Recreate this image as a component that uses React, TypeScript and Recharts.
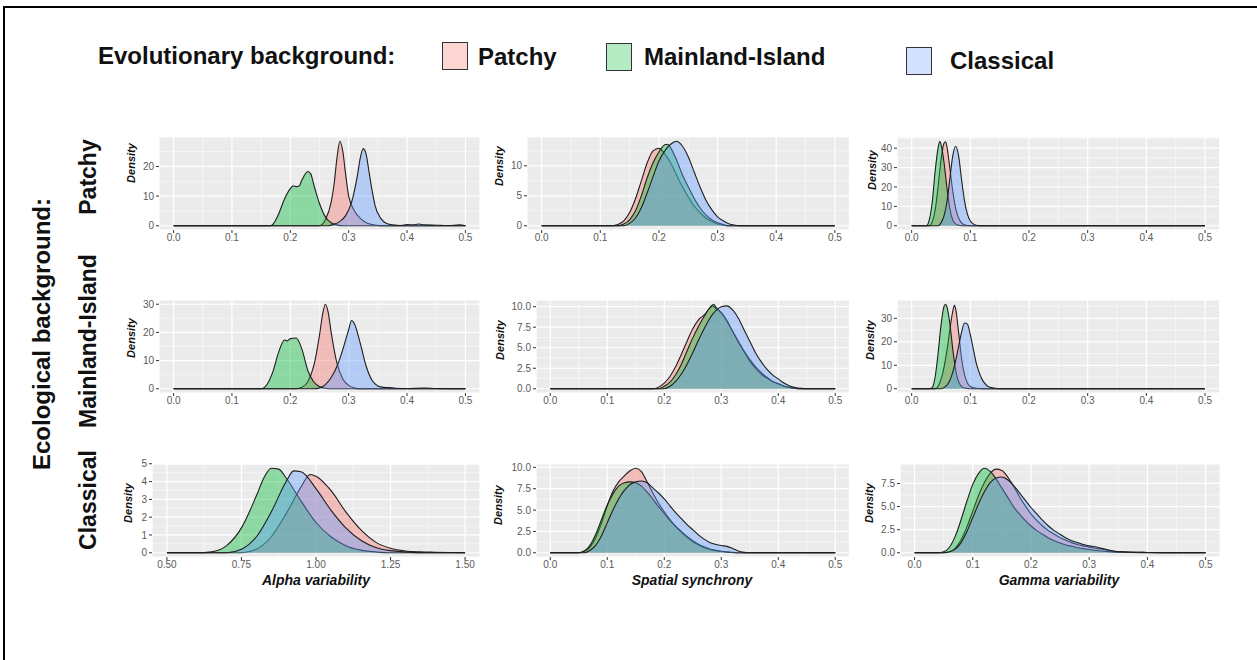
import React from 'react';
import { ComposedChart, Area, XAxis, YAxis, CartesianGrid } from 'recharts';

const FONT = '"Liberation Sans", Arial, Helvetica, sans-serif';

type Pts = number[][];

// ---------- categories / labels ----------
const evoGroups = ['Patchy', 'Mainland-Island', 'Classical'];
const evoColors = ['#F8766D', '#00BA38', '#619CFF'];
const legendFills = ['#FDD5D2', '#B5EBC3', '#D3E1FF'];
const ecoRows = ['Patchy', 'Mainland-Island', 'Classical'];
const metricTitles = ['Alpha variability', 'Spatial synchrony', 'Gamma variability'];

const xTicksUnit = [0, 0.1, 0.2, 0.3, 0.4, 0.5];
const xTicksAlphaClassical = [0.5, 0.75, 1, 1.25, 1.5];

// ---------- Row 1: ecological Patchy ----------
const r1AlphaP: Pts = [[0,0],[0.25,0],[0.26,2],[0.27,8],[0.275,14],[0.28,23],[0.285,28.5],[0.29,25],[0.295,17],[0.30,10],[0.31,5],[0.32,2.5],[0.33,1],[0.34,0.4],[0.35,0.1],[0.36,0],[0.5,0]];
const r1AlphaM: Pts = [[0,0],[0.165,0],[0.17,0.5],[0.18,4],[0.19,9],[0.20,12.5],[0.205,13.5],[0.21,13.2],[0.215,13.4],[0.22,15.5],[0.23,18.3],[0.235,17.5],[0.24,14],[0.25,7.5],[0.26,3],[0.27,1],[0.28,0.3],[0.29,0],[0.5,0]];
const r1AlphaC: Pts = [[0,0],[0.265,0],[0.275,0.5],[0.285,1.5],[0.295,3.5],[0.305,8],[0.315,17],[0.32,23],[0.325,26],[0.33,24],[0.335,18],[0.34,12],[0.345,7],[0.355,2.5],[0.365,0.8],[0.375,0.3],[0.39,0.1],[0.40,0.4],[0.41,0.3],[0.42,0.6],[0.43,0.3],[0.45,0.2],[0.47,0.1],[0.49,0.3],[0.5,0]];

const r1SyncP: Pts = [[0,0],[0.12,0],[0.13,0.2],[0.14,0.8],[0.15,2.2],[0.16,4.5],[0.17,7.5],[0.18,10.5],[0.19,12.5],[0.20,12.9],[0.21,12],[0.22,10.5],[0.23,8.5],[0.24,6.5],[0.25,4.8],[0.26,3.3],[0.27,2.2],[0.28,1.3],[0.29,0.7],[0.30,0.3],[0.31,0.1],[0.32,0],[0.5,0]];
const r1SyncM: Pts = [[0,0],[0.13,0],[0.14,0.3],[0.15,1],[0.16,2.5],[0.17,5],[0.18,8],[0.19,10.5],[0.20,12.3],[0.21,13.5],[0.215,13.6],[0.22,13],[0.23,11],[0.24,8.5],[0.25,6.5],[0.26,4.6],[0.27,3],[0.28,1.8],[0.29,1],[0.30,0.5],[0.31,0.2],[0.32,0],[0.5,0]];
const r1SyncC: Pts = [[0,0],[0.14,0],[0.15,0.4],[0.16,1.3],[0.17,3],[0.18,5.5],[0.19,8.2],[0.20,10.8],[0.21,12.5],[0.22,13.6],[0.23,14.1],[0.24,13.3],[0.25,11.5],[0.26,9],[0.27,6.5],[0.28,4.3],[0.29,2.7],[0.30,1.5],[0.31,0.8],[0.32,0.3],[0.33,0.1],[0.34,0],[0.5,0]];

const r1GammaP: Pts = [[0,0],[0.03,0],[0.035,2],[0.04,8],[0.045,20],[0.05,34],[0.055,42.5],[0.058,43.3],[0.06,41],[0.065,30],[0.07,18],[0.075,9],[0.08,4],[0.085,1.5],[0.09,0.5],[0.10,0],[0.5,0]];
const r1GammaM: Pts = [[0,0],[0.025,0],[0.03,3],[0.035,12],[0.04,28],[0.045,40],[0.048,43.6],[0.05,42],[0.055,33],[0.06,20],[0.065,9],[0.07,3],[0.075,1],[0.08,0.3],[0.09,0],[0.5,0]];
const r1GammaC: Pts = [[0,0],[0.045,0],[0.05,1.5],[0.055,5],[0.06,12],[0.065,24],[0.07,36],[0.075,41],[0.08,36],[0.085,24],[0.09,13],[0.095,6],[0.10,2.5],[0.105,1],[0.11,0.3],[0.12,0],[0.5,0]];

// ---------- Row 2: ecological Mainland-Island ----------
const r2AlphaP: Pts = [[0,0],[0.21,0],[0.22,0.5],[0.23,2.5],[0.24,8],[0.25,19],[0.255,26],[0.26,30],[0.265,27],[0.27,20],[0.28,9],[0.29,3.5],[0.30,1.2],[0.31,0.3],[0.32,0],[0.5,0]];
const r2AlphaM: Pts = [[0,0],[0.15,0],[0.16,1.5],[0.17,6],[0.18,13],[0.19,17.3],[0.195,17],[0.20,17.8],[0.21,18],[0.22,14],[0.23,6.5],[0.24,2.5],[0.25,0.8],[0.26,0.2],[0.27,0],[0.5,0]];
const r2AlphaC: Pts = [[0,0],[0.24,0],[0.25,0.3],[0.26,1.5],[0.27,4],[0.28,8],[0.29,14],[0.30,21],[0.305,24.2],[0.31,23],[0.32,16],[0.33,8],[0.34,3],[0.35,1],[0.36,0.5],[0.37,0.4],[0.38,0.2],[0.40,0.1],[0.43,0.3],[0.45,0.1],[0.5,0]];

const r2SyncP: Pts = [[0,0],[0.18,0],[0.19,0.2],[0.20,0.7],[0.21,1.5],[0.22,2.7],[0.23,4.2],[0.24,5.8],[0.25,7.3],[0.26,8.4],[0.27,9],[0.28,9.8],[0.285,10.1],[0.29,9.8],[0.30,9.2],[0.31,8.2],[0.32,7],[0.33,5.8],[0.34,4.6],[0.35,3.6],[0.36,2.7],[0.37,2],[0.38,1.4],[0.39,0.9],[0.40,0.6],[0.41,0.3],[0.42,0.15],[0.43,0.05],[0.44,0],[0.5,0]];
const r2SyncM: Pts = [[0,0],[0.19,0],[0.20,0.3],[0.21,0.8],[0.22,1.7],[0.23,3],[0.24,4.6],[0.25,6.2],[0.26,7.6],[0.27,8.8],[0.28,9.9],[0.287,10.3],[0.29,10],[0.30,9.3],[0.31,8.3],[0.32,7],[0.33,5.7],[0.34,4.5],[0.35,3.4],[0.36,2.5],[0.37,1.8],[0.38,1.3],[0.39,0.9],[0.40,0.6],[0.41,0.35],[0.42,0.15],[0.43,0.05],[0.44,0],[0.5,0]];
const r2SyncC: Pts = [[0,0],[0.20,0],[0.21,0.3],[0.22,0.9],[0.23,1.8],[0.24,3],[0.25,4.4],[0.26,5.9],[0.27,7.3],[0.28,8.6],[0.29,9.5],[0.30,10],[0.31,10.1],[0.32,9.6],[0.33,8.6],[0.34,7.2],[0.35,5.8],[0.36,4.4],[0.37,3.3],[0.38,2.4],[0.39,1.7],[0.40,1.2],[0.41,0.7],[0.42,0.35],[0.43,0.15],[0.44,0.05],[0.45,0],[0.5,0]];

const r2GammaP: Pts = [[0,0],[0.04,0],[0.045,1],[0.05,4],[0.055,9],[0.06,16],[0.065,25],[0.07,33],[0.073,35.5],[0.075,34],[0.08,24],[0.085,13],[0.09,6],[0.095,2.5],[0.10,1],[0.11,0.2],[0.12,0],[0.5,0]];
const r2GammaM: Pts = [[0,0],[0.03,0],[0.035,0.5],[0.04,5],[0.045,15],[0.05,27],[0.055,35],[0.058,36],[0.06,35],[0.065,28],[0.07,17],[0.075,8],[0.08,3],[0.085,1],[0.09,0.3],[0.10,0],[0.5,0]];
const r2GammaC: Pts = [[0,0],[0.05,0],[0.055,0.5],[0.06,1.5],[0.065,3.5],[0.07,7],[0.075,12],[0.08,18],[0.085,24],[0.09,28],[0.095,27.5],[0.10,23],[0.105,17],[0.11,11],[0.115,7],[0.12,4],[0.125,2.2],[0.13,1],[0.14,0.3],[0.15,0],[0.5,0]];

// ---------- Row 3: ecological Classical ----------
const r3AlphaP: Pts = [[0.5,0],[0.75,0],[0.80,0.2],[0.85,0.9],[0.90,2.2],[0.95,3.7],[0.98,4.4],[1.00,4.3],[1.05,3.5],[1.10,2.3],[1.15,1.3],[1.20,0.6],[1.25,0.25],[1.30,0.1],[1.35,0.05],[1.40,0.03],[1.5,0]];
const r3AlphaM: Pts = [[0.5,0],[0.60,0],[0.65,0.05],[0.70,0.4],[0.75,1.4],[0.80,3.2],[0.825,4.2],[0.85,4.75],[0.875,4.7],[0.90,4.2],[0.95,2.9],[1.00,1.7],[1.05,0.9],[1.10,0.4],[1.15,0.15],[1.20,0.05],[1.25,0],[1.5,0]];
const r3AlphaC: Pts = [[0.5,0],[0.70,0],[0.75,0.2],[0.80,0.9],[0.85,2.3],[0.90,4.0],[0.925,4.6],[0.95,4.55],[1.00,3.6],[1.05,2.4],[1.10,1.4],[1.15,0.7],[1.20,0.3],[1.25,0.12],[1.30,0.05],[1.35,0],[1.5,0]];

const r3SyncP: Pts = [[0,0],[0.05,0],[0.06,0.2],[0.07,0.7],[0.08,1.8],[0.09,3.5],[0.10,5.5],[0.11,7.2],[0.12,8.3],[0.13,9],[0.14,9.6],[0.15,9.9],[0.16,9.5],[0.17,8.3],[0.18,7],[0.19,5.8],[0.20,4.8],[0.21,3.9],[0.22,3.1],[0.23,2.4],[0.24,1.8],[0.25,1.3],[0.26,0.9],[0.27,0.6],[0.28,0.4],[0.29,0.25],[0.30,0.15],[0.31,0.08],[0.32,0.03],[0.33,0],[0.5,0]];
const r3SyncM: Pts = [[0,0],[0.05,0],[0.06,0.2],[0.07,0.9],[0.08,2.2],[0.09,3.9],[0.10,5.6],[0.11,6.9],[0.12,7.8],[0.13,8.2],[0.14,8.3],[0.15,8.2],[0.16,7.8],[0.17,7.1],[0.18,6.3],[0.19,5.4],[0.20,4.6],[0.21,3.8],[0.22,3.1],[0.23,2.5],[0.24,1.9],[0.25,1.4],[0.26,1],[0.27,0.7],[0.28,0.45],[0.29,0.3],[0.30,0.18],[0.31,0.1],[0.32,0.05],[0.33,0],[0.5,0]];
const r3SyncC: Pts = [[0,0],[0.06,0],[0.07,0.3],[0.08,0.9],[0.09,2],[0.10,3.5],[0.11,5],[0.12,6.3],[0.13,7.3],[0.14,8],[0.15,8.3],[0.16,8.4],[0.17,8.2],[0.18,7.6],[0.19,7],[0.20,6.3],[0.21,5.5],[0.22,4.7],[0.23,4],[0.24,3.3],[0.25,2.7],[0.26,2.1],[0.27,1.6],[0.28,1.2],[0.29,1],[0.30,0.85],[0.31,0.75],[0.32,0.5],[0.33,0.2],[0.34,0.05],[0.35,0],[0.5,0]];

const r3GammaP: Pts = [[0,0],[0.05,0],[0.06,0.1],[0.07,0.5],[0.08,1.4],[0.09,2.8],[0.10,4.5],[0.11,6.2],[0.12,7.6],[0.13,8.6],[0.14,9.05],[0.15,8.9],[0.16,8.2],[0.17,7.2],[0.18,6.1],[0.19,5.1],[0.20,4.2],[0.21,3.5],[0.22,2.9],[0.23,2.4],[0.24,2],[0.25,1.65],[0.26,1.35],[0.27,1.1],[0.28,0.9],[0.29,0.75],[0.30,0.6],[0.32,0.4],[0.34,0.2],[0.36,0.1],[0.40,0.03],[0.45,0],[0.5,0]];
const r3GammaM: Pts = [[0,0],[0.04,0],[0.05,0.1],[0.06,0.6],[0.07,1.8],[0.08,3.6],[0.09,5.6],[0.10,7.4],[0.11,8.6],[0.12,9.15],[0.13,8.8],[0.14,8],[0.15,7],[0.16,6],[0.17,5],[0.18,4.2],[0.19,3.5],[0.20,2.9],[0.21,2.4],[0.22,2],[0.23,1.6],[0.24,1.3],[0.25,1.05],[0.26,0.85],[0.27,0.7],[0.28,0.55],[0.29,0.45],[0.30,0.35],[0.32,0.2],[0.34,0.1],[0.36,0.05],[0.40,0],[0.5,0]];
const r3GammaC: Pts = [[0,0],[0.05,0],[0.06,0.1],[0.07,0.4],[0.08,1.1],[0.09,2.3],[0.10,3.8],[0.11,5.3],[0.12,6.6],[0.13,7.6],[0.14,8.1],[0.15,8.2],[0.16,7.9],[0.17,7.3],[0.18,6.5],[0.19,5.7],[0.20,4.9],[0.21,4.2],[0.22,3.5],[0.23,2.9],[0.24,2.4],[0.25,2],[0.26,1.6],[0.27,1.3],[0.28,1.1],[0.29,0.9],[0.30,0.75],[0.31,0.65],[0.32,0.5],[0.33,0.35],[0.34,0.2],[0.36,0.08],[0.40,0.03],[0.45,0],[0.5,0]];

// ---------- y tick labels per panel ----------
const yTicksR1 = [[0, 10, 20], [0, 5, 10], [0, 10, 20, 30, 40]];
const yTicksR2 = [[0, 10, 20, 30], [0, 2.5, 5, 7.5, 10], [0, 10, 20, 30]];
const yTicksR3 = [[0, 1, 2, 3, 4, 5], [0, 2.5, 5, 7.5, 10], [0, 2.5, 5, 7.5]];

const panelSeries: Pts[][][] = [
  [[r1AlphaP, r1AlphaM, r1AlphaC], [r1SyncP, r1SyncM, r1SyncC], [r1GammaP, r1GammaM, r1GammaC]],
  [[r2AlphaP, r2AlphaM, r2AlphaC], [r2SyncP, r2SyncM, r2SyncC], [r2GammaP, r2GammaM, r2GammaC]],
  [[r3AlphaP, r3AlphaM, r3AlphaC], [r3SyncP, r3SyncM, r3SyncC], [r3GammaP, r3GammaM, r3GammaC]],
];
const panelYTicks = [yTicksR1, yTicksR2, yTicksR3];

// ---------- layout (pixels) ----------
const rowTops = [137, 300, 464];
const panelH = 93;
const colLefts = [[159, 527, 897], [159, 536, 897], [152, 536, 899.5]];
const colRights = [480, 849.5, 1219.7];
const Y_W = 40;
const X_H = 24;
const TOP_PAD = 8;
const densityPos = [
  [[131, 163], [499, 166], [872, 170]],
  [[131, 338], [500, 340], [870, 340]],
  [[128, 503], [498, 505], [869, 503]],
];

function buildRows(series: Pts[]) {
  const xs = Array.from(new Set(series.flatMap((s) => s.map((p) => p[0])))).sort((a, b) => a - b);
  return xs.map((x) => {
    const row: any = { x };
    series.forEach((s, i) => {
      const f = s.find((p) => p[0] === x);
      row['s' + i] = f ? f[1] : null;
    });
    return row;
  });
}

function scaleFn(axis: any) {
  const s = axis && axis.scale;
  if (typeof s === 'function') return (v: number) => s(v);
  if (s && typeof s.map === 'function') return (v: number) => s.map(v);
  return null;
}

function minorOf(ticks: number[], lo: number, hi: number) {
  const step = ticks[1] - ticks[0];
  const ext = [ticks[0] - step, ...ticks, ticks[ticks.length - 1] + step];
  const out: number[] = [];
  for (let i = 0; i < ext.length - 1; i++) {
    const m = (ext[i] + ext[i + 1]) / 2;
    if (m > lo && m < hi) out.push(m);
  }
  return out;
}

const tickStyle = { fill: '#5a5a5a', fontSize: 10, fontFamily: FONT };

function Panel({ row, col }: { row: number; col: number }) {
  const series = panelSeries[row][col];
  const data = buildRows(series);
  const xTicks = row === 2 && col === 0 ? xTicksAlphaClassical : xTicksUnit;
  const xr = xTicks[xTicks.length - 1] - xTicks[0];
  const xDom = [xTicks[0] - 0.05 * xr, xTicks[xTicks.length - 1] + 0.05 * xr];
  const peak = Math.max(...series.flatMap((s) => s.map((p) => p[1])));
  const yDom = [-0.05 * peak, 1.05 * peak];
  const yTicks = panelYTicks[row][col];
  const yFmt = (v: number) => (yTicks.some((t) => t % 1 !== 0) ? v.toFixed(1) : String(v));
  const xFmt = (v: number) => (xTicks === xTicksAlphaClassical ? v.toFixed(2) : v.toFixed(1));
  const minorX = minorOf(xTicks, xDom[0], xDom[1]);
  const minorY = minorOf(yTicks, yDom[0], yDom[1]);
  const left = colLefts[row][col];
  const w = colRights[col] - left;
  return (
    <div style={{ position: 'absolute', left: left - Y_W, top: rowTops[row] - TOP_PAD }}>
      <ComposedChart width={w + Y_W} height={panelH + X_H + TOP_PAD} data={data} margin={{ top: TOP_PAD, right: 0, bottom: 0, left: 0 }}>
        <CartesianGrid stroke="#FFFFFF" strokeWidth={1.2} fill="#EBEBEB" fillOpacity={1} />
        <CartesianGrid
          stroke="#FFFFFF"
          strokeWidth={0.5}
          horizontalCoordinatesGenerator={(p: any) => {
            const f = scaleFn(p.yAxis);
            return f ? minorY.map(f) : [];
          }}
          verticalCoordinatesGenerator={(p: any) => {
            const f = scaleFn(p.xAxis);
            return f ? minorX.map(f) : [];
          }}
        />
        <XAxis
          dataKey="x"
          type="number"
          domain={xDom}
          ticks={xTicks}
          interval={0}
          allowDataOverflow
          axisLine={false}
          tickLine={{ stroke: '#333' }}
          tickSize={3}
          tickMargin={1}
          height={X_H}
          tick={tickStyle}
          tickFormatter={xFmt}
        />
        <YAxis
          type="number"
          domain={yDom}
          ticks={yTicks}
          interval={0}
          allowDataOverflow
          axisLine={false}
          tickLine={{ stroke: '#333' }}
          tickSize={3}
          tickMargin={2}
          width={Y_W}
          tick={tickStyle}
          tickFormatter={yFmt}
        />
        {series.map((_, i) => (
          <Area
            key={i}
            type="monotone"
            dataKey={'s' + i}
            connectNulls
            baseValue={0}
            fill={evoColors[i]}
            fillOpacity={0.4}
            stroke="#1e1e1e"
            strokeWidth={1.1}
            dot={false}
            activeDot={false}
            isAnimationActive={false}
          />
        ))}
      </ComposedChart>
    </div>
  );
}

function T({ x, y, text, size, bold = true, italic = false, rotate = 0, anchor = 'middle', color = '#111' }: any) {
  const tx = anchor === 'middle' ? '-50%' : '0';
  return (
    <div
      style={{
        position: 'absolute',
        left: x,
        top: y,
        transform: `translate(${tx}, -50%) rotate(${rotate}deg)`,
        transformOrigin: anchor === 'middle' ? 'center' : 'left center',
        fontFamily: FONT,
        fontSize: size,
        fontWeight: bold ? 'bold' : 'normal',
        fontStyle: italic ? 'italic' : 'normal',
        whiteSpace: 'nowrap',
        lineHeight: 1,
        color,
      }}
    >
      {text}
    </div>
  );
}

const legendBoxes = [
  { x: 442, y: 42, tx: 478, ty: 57 },
  { x: 606, y: 43, tx: 644, ty: 57 },
  { x: 906, y: 47, tx: 950, ty: 61 },
];
const rowLabelPos = [[88, 177], [88, 341], [88, 500]];
const axisTitlePos = [[316, 580], [692, 580], [1059, 580]];

export default function App() {
  return (
    <div style={{ position: 'absolute', left: 0, top: 0, width: 1257, height: 660, background: '#fff', overflow: 'hidden' }}>
      <div style={{ position: 'absolute', left: 3, top: 6, width: 1260, height: 2, background: '#000' }} />
      <div style={{ position: 'absolute', left: 3, top: 6, width: 2, height: 660, background: '#000' }} />

      <T x={98} y={56} text="Evolutionary background:" size={24} anchor="start" />
      {evoGroups.map((g, i) => (
        <React.Fragment key={g}>
          <div
            style={{
              position: 'absolute',
              left: legendBoxes[i].x,
              top: legendBoxes[i].y,
              width: 24,
              height: 26,
              background: legendFills[i],
              border: '1.5px solid #333',
            }}
          />
          <T x={legendBoxes[i].tx} y={legendBoxes[i].ty} text={g} size={24} anchor="start" />
        </React.Fragment>
      ))}

      <T x={42} y={334} text="Ecological background:" size={24} rotate={-90} />
      {ecoRows.map((r, i) => (
        <T key={r} x={rowLabelPos[i][0]} y={rowLabelPos[i][1]} text={r} size={23} rotate={-90} />
      ))}

      {[0, 1, 2].map((row) =>
        [0, 1, 2].map((col) => <Panel key={`${row}-${col}`} row={row} col={col} />)
      )}

      {[0, 1, 2].map((row) =>
        [0, 1, 2].map((col) => (
          <T
            key={`d${row}-${col}`}
            x={densityPos[row][col][0]}
            y={densityPos[row][col][1]}
            text="Density"
            size={11}
            italic
            rotate={-90}
          />
        ))
      )}

      {metricTitles.map((t, i) => (
        <T key={t} x={axisTitlePos[i][0]} y={axisTitlePos[i][1]} text={t} size={14} italic />
      ))}
    </div>
  );
}
